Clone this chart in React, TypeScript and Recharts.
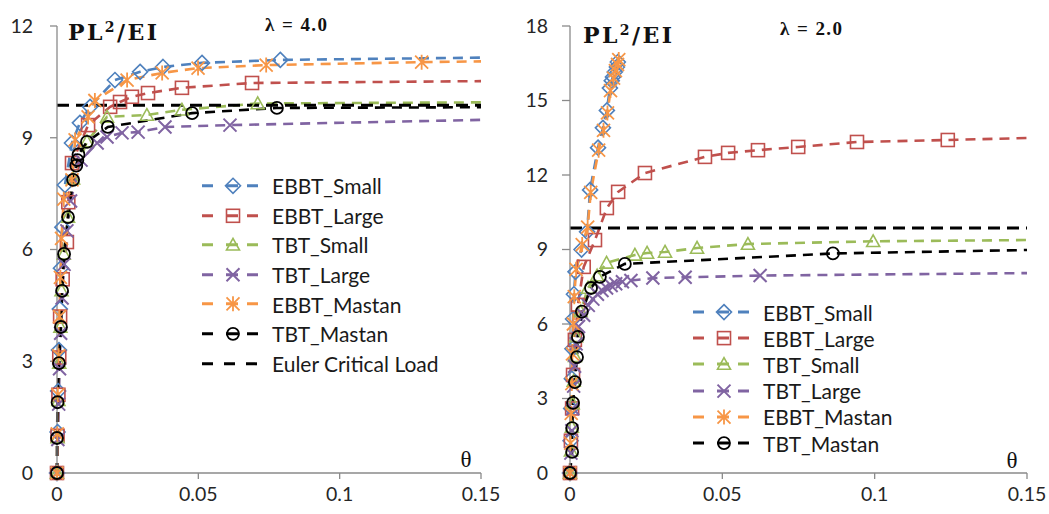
import React from 'react';
import { LineChart, Line, XAxis, YAxis, Legend } from 'recharts';

type Pt = [number, number];

// lambda = 4.0, points are [theta, PL^2/EI]
const L4_EBBT_SMALL: Pt[] = [[0, 0], [0.0002, 1.1], [0.0004, 2.2], [0.0007, 3.3], [0.001, 4.4], [0.0014, 5.5], [0.0019, 6.6], [0.0028, 7.73], [0.0053, 8.86], [0.0081, 9.4], [0.0117, 9.83], [0.0205, 10.55], [0.0294, 10.77], [0.0375, 10.9], [0.0513, 11.01], [0.079, 11.09], [0.15, 11.15]];
const L4_EBBT_LARGE: Pt[] = [[0, 0], [0.0002, 1.0], [0.0005, 2.1], [0.0008, 3.1], [0.0011, 4.2], [0.002, 5.2], [0.0035, 6.2], [0.004, 7.27], [0.0053, 8.32], [0.011, 9.34], [0.0188, 9.83], [0.0223, 9.96], [0.0265, 10.1], [0.0322, 10.2], [0.0442, 10.34], [0.069, 10.47], [0.15, 10.52]];
const L4_TBT_SMALL: Pt[] = [[0, 0], [0.0002, 0.95], [0.0005, 1.95], [0.0008, 2.95], [0.0012, 3.92], [0.0016, 4.9], [0.0024, 5.88], [0.0039, 6.87], [0.0057, 7.9], [0.0106, 8.9], [0.0177, 9.56], [0.0318, 9.61], [0.0442, 9.75], [0.071, 9.92], [0.15, 9.95]];
const L4_TBT_LARGE: Pt[] = [[0, 0], [0.0003, 0.9], [0.0006, 1.85], [0.0009, 2.8], [0.0013, 3.75], [0.0018, 4.7], [0.0025, 5.6], [0.0035, 6.5], [0.0048, 7.3], [0.0085, 8.4], [0.0142, 8.86], [0.0177, 9.02], [0.023, 9.13], [0.0287, 9.15], [0.0382, 9.29], [0.0612, 9.34], [0.15, 9.48]];
const L4_EBBT_MASTAN: Pt[] = [[0, 0], [0.0001, 1.05], [0.0003, 2.1], [0.0006, 3.15], [0.0009, 4.2], [0.0012, 5.25], [0.0016, 6.3], [0.0024, 7.35], [0.0053, 7.87], [0.0064, 8.94], [0.011, 9.56], [0.0134, 10.0], [0.0248, 10.55], [0.0372, 10.74], [0.0499, 10.87], [0.074, 10.95], [0.129, 11.03], [0.15, 11.05]];
const L4_TBT_MASTAN: Pt[] = [[0, 0], [0, 0.94], [0.0002, 1.9], [0.0007, 2.95], [0.0014, 3.92], [0.0018, 4.89], [0.0025, 5.88], [0.0039, 6.87], [0.0057, 7.87], [0.0068, 8.25], [0.0072, 8.4], [0.0076, 8.55], [0.0106, 8.89], [0.018, 9.29], [0.0478, 9.66], [0.0778, 9.8], [0.15, 9.82]];

// lambda = 2.0
const L2_EBBT_SMALL: Pt[] = [[0, 0], [0.0002, 1.3], [0.0004, 2.6], [0.0006, 3.8], [0.0008, 5.0], [0.001, 6.2], [0.0013, 7.2], [0.0018, 8.1], [0.0038, 9.0], [0.0056, 9.71], [0.0066, 11.4], [0.0092, 13.1], [0.0108, 13.9], [0.0121, 14.6], [0.0131, 15.5], [0.0137, 15.8], [0.0141, 15.95], [0.0147, 16.15], [0.0154, 16.35], [0.0157, 16.55]];
const L2_EBBT_LARGE: Pt[] = [[0, 0], [0.0003, 1.3], [0.0007, 2.6], [0.001, 3.95], [0.0016, 5.36], [0.0026, 6.77], [0.0045, 8.3], [0.0082, 9.38], [0.0121, 10.67], [0.0158, 11.32], [0.0246, 12.08], [0.0443, 12.73], [0.0519, 12.89], [0.0617, 13.0], [0.0749, 13.13], [0.0942, 13.33], [0.124, 13.41], [0.15, 13.49]];
const L2_TBT_SMALL: Pt[] = [[0, 0], [0.0003, 0.9], [0.0006, 1.85], [0.0009, 2.8], [0.0012, 3.7], [0.0016, 4.7], [0.002, 5.5], [0.0035, 6.5], [0.0059, 7.45], [0.0089, 7.95], [0.012, 8.46], [0.0213, 8.78], [0.0253, 8.86], [0.0312, 8.9], [0.0417, 9.06], [0.0584, 9.22], [0.0995, 9.33], [0.15, 9.38]];
const L2_TBT_LARGE: Pt[] = [[0, 0], [0.0003, 0.8], [0.0006, 1.7], [0.0009, 2.6], [0.0012, 3.5], [0.0015, 4.3], [0.002, 5.2], [0.0028, 5.9], [0.0045, 6.35], [0.006, 6.75], [0.0075, 7.0], [0.009, 7.2], [0.0105, 7.35], [0.012, 7.45], [0.0135, 7.55], [0.015, 7.62], [0.0172, 7.7], [0.02, 7.75], [0.0272, 7.85], [0.0378, 7.88], [0.0624, 7.95], [0.15, 8.05]];
const L2_EBBT_MASTAN: Pt[] = [[0, 0], [0.0002, 1.2], [0.0004, 2.4], [0.0006, 3.6], [0.0008, 4.8], [0.0011, 6.0], [0.0014, 7.1], [0.002, 8.2], [0.004, 9.2], [0.0058, 9.9], [0.0068, 11.3], [0.0094, 13.0], [0.011, 13.8], [0.0123, 14.5], [0.0133, 15.4], [0.0143, 15.9], [0.0149, 16.2], [0.0156, 16.45], [0.016, 16.65]];
const L2_TBT_MASTAN: Pt[] = [[0, 0], [0.0007, 0.85], [0.0007, 1.81], [0.001, 2.82], [0.0016, 3.66], [0.0023, 4.67], [0.0026, 5.48], [0.0039, 6.5], [0.0069, 7.45], [0.0098, 7.9], [0.018, 8.42], [0.0863, 8.84], [0.15, 8.98]];

const EULER: Pt[] = [[0, 9.87], [0.15, 9.87]];

const X_TICKS = [0, 0.05, 0.1, 0.15];
const Y_TICKS_L4 = [0, 3, 6, 9, 12];
const Y_TICKS_L2 = [0, 3, 6, 9, 12, 15, 18];

const NAMES = ['EBBT_Small', 'EBBT_Large', 'TBT_Small', 'TBT_Large', 'EBBT_Mastan', 'TBT_Mastan'];
const COLORS = ['#4F81BD', '#C0504D', '#9BBB59', '#8064A2', '#F79646', '#000000'];
const MARKERS = ['diamond', 'square', 'triangle', 'cross', 'star', 'circle'];

const SERIES_L4 = [L4_EBBT_SMALL, L4_EBBT_LARGE, L4_TBT_SMALL, L4_TBT_LARGE, L4_EBBT_MASTAN, L4_TBT_MASTAN];
const SERIES_L2 = [L2_EBBT_SMALL, L2_EBBT_LARGE, L2_TBT_SMALL, L2_TBT_LARGE, L2_EBBT_MASTAN, L2_TBT_MASTAN];

const AXIS = '#8a8a8a';
const FONT = 'Lato, "Open Sans", sans-serif';

const toRows = (pts: Pt[]) => pts.map(([x, y]) => ({ x, y }));

function Marker({ kind, cx, cy, color }: { kind: string; cx: number; cy: number; color: string }) {
  const common = { fill: 'none', stroke: color, strokeWidth: 1.6 };
  if (kind === 'diamond') {
    const s = 7.5;
    return <polygon points={`${cx},${cy - s} ${cx + s},${cy} ${cx},${cy + s} ${cx - s},${cy}`} {...common} />;
  }
  if (kind === 'square') {
    const s = 6.5;
    return <rect x={cx - s} y={cy - s} width={2 * s} height={2 * s} {...common} />;
  }
  if (kind === 'triangle') {
    const s = 6.5;
    return <polygon points={`${cx},${cy - s} ${cx + s},${cy + s * 0.8} ${cx - s},${cy + s * 0.8}`} {...common} />;
  }
  if (kind === 'cross') {
    const s = 6.5;
    return <path d={`M${cx - s},${cy - s}L${cx + s},${cy + s}M${cx - s},${cy + s}L${cx + s},${cy - s}`} {...common} strokeWidth={2} />;
  }
  if (kind === 'star') {
    const s = 6.5;
    return <path d={`M${cx - s},${cy - s}L${cx + s},${cy + s}M${cx - s},${cy + s}L${cx + s},${cy - s}M${cx},${cy - s - 1}L${cx},${cy + s + 1}`} {...common} strokeWidth={1.8} />;
  }
  return <circle cx={cx} cy={cy} r={6} {...common} strokeWidth={1.8} />;
}

function LegendBox({ count, rowH, withEuler }: { count: number; rowH: number; withEuler: boolean }) {
  const rows = NAMES.slice(0, count).map((n, i) => ({ name: n, color: COLORS[i], kind: MARKERS[i] }));
  if (withEuler) rows.push({ name: 'Euler Critical Load', color: '#000000', kind: 'none' });
  return (
    <div>
      {rows.map((r) => (
        <div key={r.name} style={{ height: rowH, display: 'flex', alignItems: 'center' }}>
          <svg width={56} height={rowH} style={{ display: 'block' }}>
            {r.kind === 'none' ? (
              <line x1={0} x2={56} y1={rowH / 2} y2={rowH / 2} stroke="#000" strokeWidth={3} strokeDasharray="11 11" />
            ) : (
              <g>
                <line x1={0} x2={56} y1={rowH / 2} y2={rowH / 2} stroke={r.color} strokeWidth={3} strokeDasharray="11 13 12 9 11" />
                <Marker kind={r.kind} cx={31} cy={rowH / 2} color={r.color} />
              </g>
            )}
          </svg>
          <span style={{ marginLeft: 14, fontFamily: FONT, fontSize: 21, color: '#1a1a1a', whiteSpace: 'nowrap' }}>{r.name}</span>
        </div>
      ))}
    </div>
  );
}

function Panel(props: {
  series: Pt[][];
  width: number;
  yAxisWidth: number;
  marginRight: number;
  yMax: number;
  yTicks: number[];
  yTickSize: number;
  yTickMargin: number;
  legendLeft: number;
  legendTop: number;
  rowH: number;
  withEuler: boolean;
}) {
  const { series, width, yAxisWidth, marginRight, yMax, yTicks } = props;
  return (
    <LineChart width={width} height={514} margin={{ top: 26, right: marginRight, bottom: 11, left: 0 }}>
      <XAxis
        dataKey="x"
        type="number"
        domain={[0, 0.15]}
        ticks={X_TICKS}
        interval={0}
        height={30}
        tickFormatter={(v: number) => String(v)}
        stroke={AXIS}
        strokeWidth={1.3}
        tickSize={6}
        tickMargin={8}
        tick={{ fill: '#262626', fontSize: 19.5, fontFamily: FONT }}
      />
      <YAxis
        type="number"
        domain={[0, yMax]}
        ticks={yTicks}
        interval={0}
        width={yAxisWidth}
        stroke={AXIS}
        strokeWidth={1.3}
        tickSize={props.yTickSize}
        tickMargin={props.yTickMargin}
        tick={{ fill: '#262626', fontSize: 19.5, fontFamily: FONT }}
      />
      {series.map((pts, i) => (
        <Line
          key={NAMES[i]}
          name={NAMES[i]}
          data={toRows(pts)}
          dataKey="y"
          type="linear"
          stroke={COLORS[i]}
          strokeWidth={2.6}
          strokeDasharray="10 7"
          isAnimationActive={false}
          dot={(p: any) => {
            if (p.cx == null || p.cy == null || p.payload.x >= 0.15) return <g key={`d${i}-${p.index}`} />;
            return (
              <g key={`d${i}-${p.index}`}>
                <Marker kind={MARKERS[i]} cx={p.cx} cy={p.cy} color={COLORS[i]} />
              </g>
            );
          }}
          activeDot={false}
        />
      ))}
      <Line
        name="Euler Critical Load"
        data={toRows(EULER)}
        dataKey="y"
        type="linear"
        stroke="#000"
        strokeWidth={3}
        strokeDasharray="12 7"
        dot={false}
        activeDot={false}
        isAnimationActive={false}
      />
      <Legend
        layout="vertical"
        align="center"
        verticalAlign="middle"
        wrapperStyle={{ left: props.legendLeft, top: props.legendTop, width: 300, height: 'auto' }}
        content={() => <LegendBox count={6} rowH={props.rowH} withEuler={props.withEuler} />}
      />
    </LineChart>
  );
}

export default function App() {
  return (
    <div style={{ position: 'absolute', left: 0, top: 0, width: 1049, height: 514, background: '#fff', overflow: 'hidden' }}>
      <div style={{ position: 'absolute', left: 0, top: 0 }}>
        <Panel
          series={SERIES_L4}
          width={520}
          yAxisWidth={57}
          marginRight={39}
          yMax={12}
          yTicks={Y_TICKS_L4}
          yTickSize={7}
          yTickMargin={17}
          legendLeft={202}
          legendTop={171}
          rowH={29.6}
          withEuler={true}
        />
      </div>
      <div style={{ position: 'absolute', left: 520, top: 0 }}>
        <Panel
          series={SERIES_L2}
          width={529}
          yAxisWidth={50}
          marginRight={22}
          yMax={18}
          yTicks={Y_TICKS_L2}
          yTickSize={8}
          yTickMargin={14}
          legendLeft={173}
          legendTop={299}
          rowH={26.2}
          withEuler={false}
        />
      </div>
      <svg width={1049} height={514} style={{ position: 'absolute', left: 0, top: 0, pointerEvents: 'none' }}>
        <text x={68} y={40} fontFamily='"DejaVu Serif", serif' fontWeight="bold" fontSize={22} textLength={89} lengthAdjust="spacing" fill="#111">
          PL<tspan fontSize={14} dy={-8}>2</tspan><tspan dy={8}>/EI</tspan>
        </text>
        <text x={583} y={43} fontFamily='"DejaVu Serif", serif' fontWeight="bold" fontSize={22} textLength={89} lengthAdjust="spacing" fill="#111">
          PL<tspan fontSize={14} dy={-8}>2</tspan><tspan dy={8}>/EI</tspan>
        </text>
        <text x={265} y={31} fontFamily='"Liberation Serif", serif' fontWeight="bold" fontSize={19} textLength={62} lengthAdjust="spacing" fill="#111">λ = 4.0</text>
        <text x={780} y={35} fontFamily='"Liberation Serif", serif' fontWeight="bold" fontSize={19} textLength={62} lengthAdjust="spacing" fill="#111">λ = 2.0</text>
        <text x={466} y={467} textAnchor="middle" fontFamily='"Liberation Serif", serif' fontSize={23} fill="#111">θ</text>
        <text x={1012} y={468} textAnchor="middle" fontFamily='"Liberation Serif", serif' fontSize={23} fill="#111">θ</text>
      </svg>
    </div>
  );
}
